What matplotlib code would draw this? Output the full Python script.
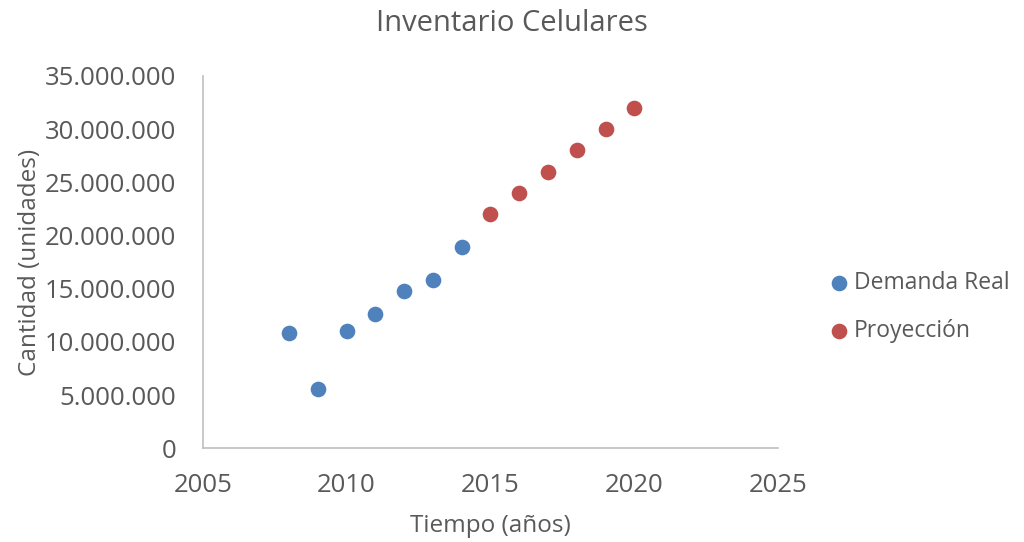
import matplotlib.pyplot as plt
from matplotlib.ticker import FuncFormatter

plt.rcParams['font.family'] = ['Open Sans', 'DejaVu Sans']

anios_real = [2008, 2009, 2010, 2011, 2012, 2013, 2014]
demanda_real = [10800000, 5550000, 11000000, 12600000, 14770000, 15800000, 18900000]
anios_proy = [2015, 2016, 2017, 2018, 2019, 2020]
proyeccion = [22000000, 24000000, 26000000, 28000000, 30000000, 32000000]

gris = '#595959'

fig = plt.figure(figsize=(10.24, 5.42), dpi=100)
ax = fig.add_axes([0.198, 0.173, 0.562, 0.687])

ax.scatter(anios_real, demanda_real, s=105, color='#4F81BD', label='Demanda Real', zorder=3)
ax.scatter(anios_proy, proyeccion, s=105, color='#C0504D', label='Proyección', zorder=3)

ax.set_xlim(2005, 2025)
ax.set_ylim(0, 35000000)
ax.set_xticks(range(2005, 2026, 5))
ax.set_yticks(range(0, 35000001, 5000000))
ax.yaxis.set_major_formatter(FuncFormatter(lambda v, p: f'{int(v):,}'.replace(',', '.')))

for s in ['top', 'right']:
    ax.spines[s].set_visible(False)
for s in ['left', 'bottom']:
    ax.spines[s].set_color('#BFBFBF')
    ax.spines[s].set_linewidth(1.2)
ax.tick_params(length=0, labelsize=18.5, colors=gris)
ax.tick_params(axis='y', pad=19)
ax.tick_params(axis='x', pad=18)

fig.suptitle('Inventario Celulares', fontsize=21, color=gris, x=0.5, y=0.983, va='top')
ax.set_xlabel('Tiempo (años)', fontsize=17.5, color=gris, labelpad=11)
ax.set_ylabel('Cantidad (unidades)', fontsize=17.5, color=gris, labelpad=2)

ax.legend(loc='center left', bbox_to_anchor=(0.797, 0.433), bbox_transform=fig.transFigure,
          frameon=False, fontsize=16.5, labelcolor=gris, handletextpad=-0.35,
          labelspacing=1.05, borderaxespad=0, borderpad=0)

fig.savefig('out.png', dpi=100)
